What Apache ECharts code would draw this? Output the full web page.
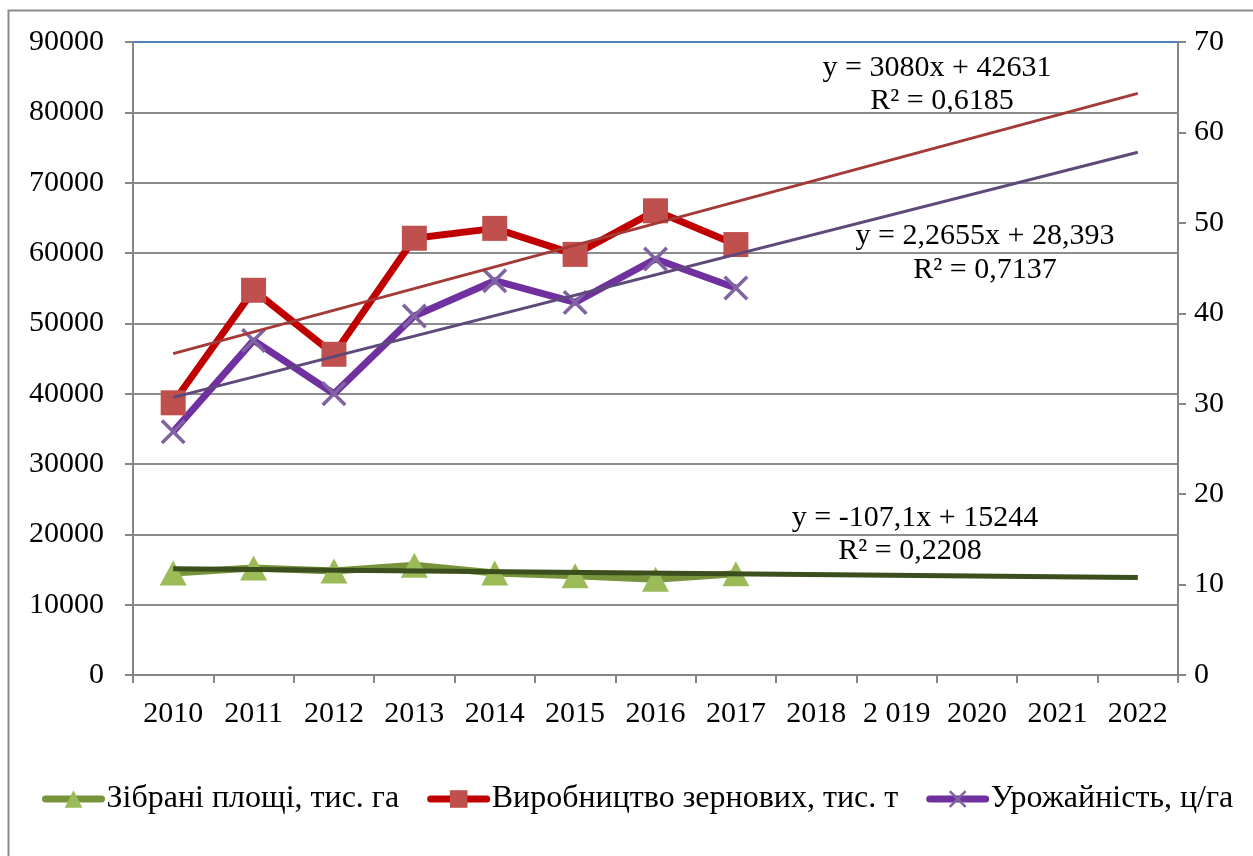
<!DOCTYPE html>
<html>
<head>
<meta charset="utf-8">
<script src="https://cdn.jsdelivr.net/npm/echarts@6/dist/echarts.min.js"></script>
<style>
  html, body { margin: 0; padding: 0; background: #fff; }
  #chart { width: 1253px; height: 856px; }
</style>
</head>
<body>
<div id="chart"></div>
<script>
  // categories (x axis)
  let years = ['2010', '2011', '2012', '2013', '2014', '2015', '2016', '2017', '2018', '2 019', '2020', '2021', '2022'];

  // series values
  let area = [14500, 15200, 14800, 15600, 14500, 14100, 13600, 14400];          // тис. га, left axis
  let production = [38700, 54700, 45600, 62100, 63500, 59800, 66000, 61200];    // тис. т, left axis
  let yieldVal = [26.9, 37.0, 31.1, 39.7, 43.6, 41.2, 46.0, 42.8];              // ц/га, right axis

  // trend line ends (2010 and 2022)
  let areaTrend = [15100, null, null, null, null, null, null, null, null, null, null, null, 13850];
  let productionTrend = [45700, null, null, null, null, null, null, null, null, null, null, null, 82700];
  let yieldTrend = [30.7, null, null, null, null, null, null, null, null, null, null, null, 57.8];

  let names = ['Зібрані площі, тис. га', 'Виробництво зернових, тис. т', 'Урожайність, ц/га'];

  let font = 'Liberation Serif, Times New Roman, serif';
  let crossPath = 'path://M0,1L1,0L5,4L9,0L10,1L6,5L10,9L9,10L5,6L1,10L0,9L4,5Z';
  let eqFont = '30px ' + font;

  let chart = echarts.init(document.getElementById('chart'));
  let option = {
    animation: false,
    textStyle: { fontFamily: font },
    grid: { left: 133, right: 75, top: 42, bottom: 181 },
    legend: {
      data: names,
      top: 783,
      left: 42,
      width: 1250,
      padding: 0,
      itemWidth: 56,
      itemHeight: 22,
      itemGap: 28,
      lineStyle: { width: 7, cap: 'round' },
      textStyle: { fontFamily: font, fontSize: 32, color: '#000' }
    },
    xAxis: {
      type: 'category',
      data: years,
      boundaryGap: true,
      axisLine: { lineStyle: { color: '#868686', width: 2 } },
      axisTick: { show: true, length: 8, lineStyle: { color: '#868686', width: 2 } },
      axisLabel: { fontFamily: font, fontSize: 30, color: '#000', margin: 24, interval: 0 },
      splitLine: { show: false }
    },
    yAxis: [
      {
        type: 'value',
        min: 0, max: 90000, interval: 10000,
        axisLine: { show: true, lineStyle: { color: '#868686', width: 2 } },
        axisTick: { show: true, length: 8, lineStyle: { color: '#868686', width: 2 } },
        axisLabel: { fontFamily: font, fontSize: 30, color: '#000', margin: 29, formatter: function (v) { return String(v); } },
        splitLine: { show: true, lineStyle: { color: '#8c8c8c', width: 2 } }
      },
      {
        type: 'value',
        min: 0, max: 70, interval: 10,
        position: 'right',
        axisLine: { show: true, lineStyle: { color: '#868686', width: 2 } },
        axisTick: { show: true, length: 8, lineStyle: { color: '#868686', width: 2 } },
        axisLabel: { fontFamily: font, fontSize: 30, color: '#000', margin: 16 },
        splitLine: { show: false }
      }
    ],
    series: [
      {
        name: names[0],
        type: 'line',
        data: area,
        lineStyle: { color: '#77933C', width: 7 },
        itemStyle: { color: '#9BBB59' },
        symbol: 'triangle',
        symbolSize: [27, 25],
        z: 2,
        markLine: {
          silent: true,
          symbol: 'none',
          label: { show: false },
          lineStyle: { color: '#4F81BD', type: 'solid', width: 2 },
          data: [{ yAxis: 90000 }]
        }
      },
      {
        name: names[1],
        type: 'line',
        data: production,
        lineStyle: { color: '#C00000', width: 7 },
        itemStyle: { color: '#C0504D' },
        symbol: 'rect',
        symbolSize: 25,
        z: 2
      },
      {
        name: names[2],
        type: 'line',
        yAxisIndex: 1,
        data: yieldVal,
        lineStyle: { color: '#7030A0', width: 7 },
        itemStyle: { color: '#8064A2' },
        symbol: crossPath,
        symbolSize: 25,
        z: 2
      },
      {
        name: 'trend-area',
        type: 'line',
        data: areaTrend,
        connectNulls: true,
        showSymbol: false,
        symbol: 'none',
        lineStyle: { color: '#3A4E1E', width: 5 },
        z: 3
      },
      {
        name: 'trend-production',
        type: 'line',
        data: productionTrend,
        connectNulls: true,
        showSymbol: false,
        symbol: 'none',
        lineStyle: { color: '#A33A37', width: 3 },
        z: 3
      },
      {
        name: 'trend-yield',
        type: 'line',
        yAxisIndex: 1,
        data: yieldTrend,
        connectNulls: true,
        showSymbol: false,
        symbol: 'none',
        lineStyle: { color: '#5F497A', width: 3 },
        z: 3
      }
    ],
    graphic: [
      {
        type: 'rect',
        shape: { x: 8.5, y: 10.5, width: 1260, height: 870 },
        style: { fill: 'none', stroke: '#8c8c8c', lineWidth: 2 },
        silent: true,
        z: -10
      },
      { type: 'text', x: 937, y: 68, style: { text: 'y = 3080x + 42631', font: eqFont, fill: '#000', align: 'center', verticalAlign: 'middle' } },
      { type: 'text', x: 942, y: 101, style: { text: 'R² = 0,6185', font: eqFont, fill: '#000', align: 'center', verticalAlign: 'middle' } },
      { type: 'text', x: 985, y: 236, style: { text: 'y = 2,2655x + 28,393', font: eqFont, fill: '#000', align: 'center', verticalAlign: 'middle' } },
      { type: 'text', x: 985, y: 270, style: { text: 'R² = 0,7137', font: eqFont, fill: '#000', align: 'center', verticalAlign: 'middle' } },
      { type: 'text', x: 915, y: 518, style: { text: 'y = -107,1x + 15244', font: eqFont, fill: '#000', align: 'center', verticalAlign: 'middle' } },
      { type: 'text', x: 910, y: 551, style: { text: 'R² = 0,2208', font: eqFont, fill: '#000', align: 'center', verticalAlign: 'middle' } }
    ]
  };
  chart.setOption(option);
</script>
</body>
</html>
